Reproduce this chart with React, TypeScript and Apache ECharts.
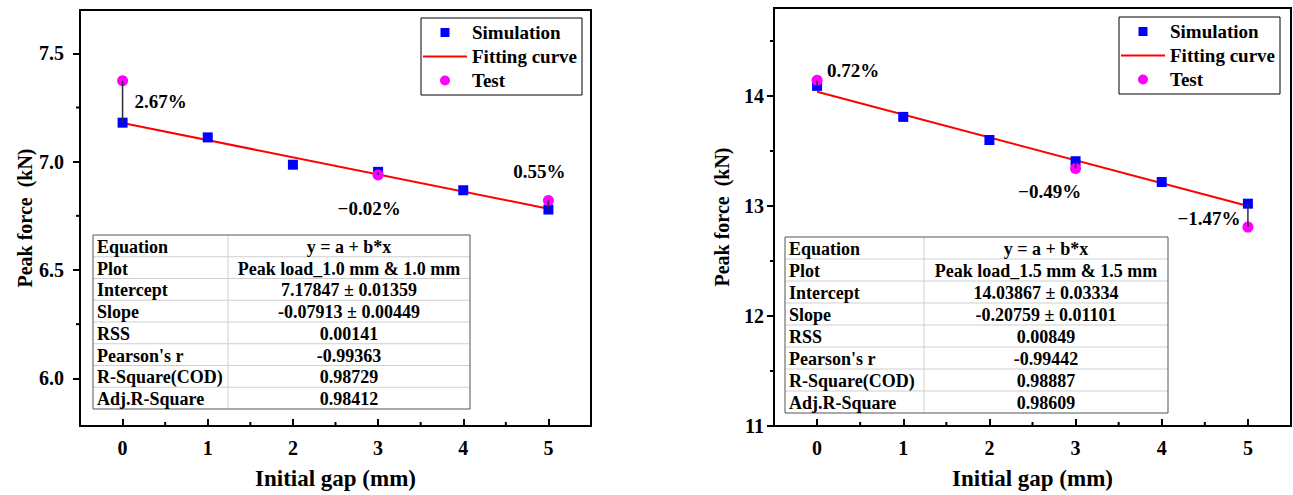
import React, { useEffect, useRef } from "react";
import * as echarts from "echarts";

// ---------- data ----------
const gaps = [0, 1, 2, 3, 4, 5];
const simLeft = [7.18, 7.112, 6.986, 6.953, 6.868, 6.779];
const testGapsLeft = [0, 3, 5];
const testLeft = [7.373, 6.938, 6.821];
const pctLeft = ["2.67%", "\u22120.02%", "0.55%"];
const interceptLeft = 7.17847;
const slopeLeft = -0.07913;

const simRight = [14.092, 13.81, 13.6, 13.407, 13.218, 13.021];
const testGapsRight = [0, 3, 5];
const testRight = [14.144, 13.34, 12.808];
const pctRight = ["0.72%", "\u22120.49%", "\u22121.47%"];
const interceptRight = 14.03867;
const slopeRight = -0.20759;

const xRange = [-0.5, 5.5];
const yRangeLeft = [5.78, 7.7];
const yRangeRight = [11, 14.8];
const xTicks = [0, 1, 2, 3, 4, 5];
const xMinorTicks = [0.5, 1.5, 2.5, 3.5, 4.5];
const yTicksLeft = [6.0, 6.5, 7.0, 7.5];
const yMinorLeft = [6.25, 6.75, 7.25];
const yTicksRight = [11, 12, 13, 14];
const yMinorRight = [11.5, 12.5, 13.5, 14.5];

const tableLabels = ["Equation", "Plot", "Intercept", "Slope", "RSS", "Pearson's r", "R-Square(COD)", "Adj.R-Square"];
const tableLeftValues = ["y = a + b*x", "Peak load_1.0 mm & 1.0 mm", "7.17847 \u00b1 0.01359", "-0.07913 \u00b1 0.00449", "0.00141", "-0.99363", "0.98729", "0.98412"];
const tableRightValues = ["y = a + b*x", "Peak load_1.5 mm & 1.5 mm", "14.03867 \u00b1 0.03334", "-0.20759 \u00b1 0.01101", "0.00849", "-0.99442", "0.98887", "0.98609"];

const legendNames = ["Simulation", "Fitting curve", "Test"];

// ---------- style ----------
const FONT = "Liberation Serif";
const labelOffsetsLeft = [[38, 21], [-9, 33], [-9, -29]];
const labelOffsetsRight = [[36, -10], [-26, 23], [-39, -9]];

// legend icons: tiny corner boxes fix the 44x10 bounding box so shapes keep their aspect
const CORNERS = "M0,0h0.01v0.01h-0.01z M43.99,9.99h0.01v0.01h-0.01z ";
const legendIcons = [
  "path://" + CORNERS + "M17.5,0.5h9v9h-9z",
  "path://" + CORNERS + "M0,4h44v2h-44z",
  "path://" + CORNERS + "M27,5A5,5 0 1,1 17,5A5,5 0 1,1 27,5z",
];

function buildTable(x: number, y: number, w: number, h: number, c1: number, values: string[]) {
  const n = tableLabels.length;
  const rh = h / n;
  const children: any[] = [];
  children.push({ type: "rect", shape: { x: 0, y: 0, width: w, height: h }, style: { fill: "#fff", stroke: "none" } });
  for (let i = 1; i < n; i++) {
    children.push({ type: "line", shape: { x1: 0, y1: i * rh, x2: w, y2: i * rh }, style: { stroke: "#cfcfcf", lineWidth: 1 } });
  }
  children.push({ type: "line", shape: { x1: c1, y1: 0, x2: c1, y2: h }, style: { stroke: "#cfcfcf", lineWidth: 1 } });
  children.push({ type: "rect", shape: { x: 0, y: 0, width: w, height: h }, style: { fill: "none", stroke: "#555", lineWidth: 1 } });
  tableLabels.forEach((lab, i) => {
    children.push({
      type: "text", x: 4, y: i * rh + rh / 2 + 1,
      style: { text: lab, fontFamily: FONT, fontWeight: "bold", fontSize: 18, fill: "#000", align: "left", verticalAlign: "middle" },
    });
    children.push({
      type: "text", x: c1 + (w - c1) / 2, y: i * rh + rh / 2 + 1,
      style: { text: values[i], fontFamily: FONT, fontWeight: "bold", fontSize: 18, fill: "#000", align: "center", verticalAlign: "middle" },
    });
  });
  return { type: "group", x, y, z: 50, children };
}

function axesFor(gridIndex: number, yRange: number[], yMajor: number[], yFmt: (v: number) => string, yMargin: number, yNameGap: number) {
  const tickLabel = { fontFamily: FONT, fontWeight: "bold", fontSize: 20, color: "#000" };
  const xMain = {
    type: "value", gridIndex, min: xRange[0], max: xRange[1], position: "bottom",
    name: "Initial gap (mm)", nameLocation: "middle", nameGap: 41,
    nameTextStyle: { fontFamily: FONT, fontWeight: "bold", fontSize: 23, color: "#000" },
    axisLine: { show: false, onZero: false }, splitLine: { show: false },
    axisTick: { show: true, inside: true, length: 7, customValues: xTicks, lineStyle: { color: "#000", width: 2 } },
    axisLabel: { ...tickLabel, margin: 12, customValues: xTicks, formatter: (v: number) => String(v) },
  };
  const yMain = {
    type: "value", gridIndex, min: yRange[0], max: yRange[1], position: "left",
    name: "Peak force  (kN)", nameLocation: "middle", nameGap: yNameGap,
    nameTextStyle: { fontFamily: FONT, fontWeight: "bold", fontSize: 20, color: "#000" },
    axisLine: { show: false, onZero: false }, splitLine: { show: false },
    axisTick: { show: true, inside: false, length: 7, customValues: yMajor, lineStyle: { color: "#000", width: 2 } },
    axisLabel: { ...tickLabel, margin: yMargin, customValues: yMajor, formatter: yFmt },
  };
  return { x: xMain, y: yMain };
}

function minorTickSeries(axisIndex: number, yRange: number[], yMinor: number[]) {
  const yTicks = {
    type: "custom", xAxisIndex: axisIndex, yAxisIndex: axisIndex, clip: false, silent: true, z: 10,
    data: yMinor.map((v) => [xRange[0], v]),
    renderItem: (_p: any, api: any) => {
      const pt = api.coord([api.value(0), api.value(1)]);
      return { type: "line", shape: { x1: pt[0] - 4, y1: pt[1], x2: pt[0], y2: pt[1] }, style: { stroke: "#000", lineWidth: 2 } };
    },
  };
  const xTicksS = {
    type: "custom", xAxisIndex: axisIndex, yAxisIndex: axisIndex, clip: false, silent: true, z: 10,
    data: xMinorTicks.map((v) => [v, yRange[0]]),
    renderItem: (_p: any, api: any) => {
      const pt = api.coord([api.value(0), api.value(1)]);
      return { type: "line", shape: { x1: pt[0], y1: pt[1], x2: pt[0], y2: pt[1] - 4 }, style: { stroke: "#000", lineWidth: 2 } };
    },
  };
  return [yTicks, xTicksS];
}

function seriesFor(axisIndex: number, sim: number[], tGaps: number[], test: number[], pct: string[], offsets: number[][], a: number, b: number) {
  const out: any[] = [];
  const xAxisIndex = axisIndex, yAxisIndex = axisIndex;
  out.push({
    name: "Fitting curve", type: "line", xAxisIndex, yAxisIndex, symbol: "none", showSymbol: false, z: 3,
    lineStyle: { color: "#ff0000", width: 2 }, itemStyle: { color: "#ff0000" },
    data: [[gaps[0], a + b * gaps[0]], [gaps[gaps.length - 1], a + b * gaps[gaps.length - 1]]],
  });
  out.push({
    name: "Simulation", type: "scatter", xAxisIndex, yAxisIndex, symbol: "rect", symbolSize: 10, z: 4,
    itemStyle: { color: "#0000ff", opacity: 1 },
    data: gaps.map((g, i) => [g, sim[i]]),
  });
  out.push({
    name: "Test", type: "scatter", xAxisIndex, yAxisIndex, symbol: "circle", symbolSize: 11, z: 5,
    itemStyle: { color: "#ff00ff", opacity: 1 },
    data: tGaps.map((g, i) => ({
      value: [g, test[i]],
      label: {
        show: true, position: "inside", formatter: pct[i], offset: offsets[i],
        fontFamily: FONT, fontWeight: "bold", fontSize: 19, color: "#000",
      },
    })),
  });
  tGaps.forEach((g, i) => {
    out.push({
      name: "conn", type: "line", xAxisIndex, yAxisIndex, symbol: "none", showSymbol: false, z: 6,
      lineStyle: { color: "#2e2e3a", width: 1.5 },
      data: [[g, sim[gaps.indexOf(g)]], [g, test[i]]],
    });
  });
  return out;
}

function legendAt(left: number, top: number) {
  return {
    left, top, orient: "vertical",
    data: legendNames.map((n, i) => ({ name: n, icon: legendIcons[i] })),
    borderColor: "#000", borderWidth: 1, padding: [5, 5, 5, 2],
    itemWidth: 44, itemHeight: 10, itemGap: 5, symbolKeepAspect: true,
    textStyle: { fontFamily: FONT, fontWeight: "bold", fontSize: 19, color: "#000" },
    selectedMode: false,
  };
}

export default function App() {
  const ref = useRef<HTMLDivElement>(null);
  useEffect(() => {
    document.body.style.margin = "0";
    const chart = echarts.init(ref.current!, undefined, { renderer: "svg" });
    const A = axesFor(0, yRangeLeft, yTicksLeft, (v) => v.toFixed(1), 16, 45);
    const B = axesFor(1, yRangeRight, yTicksRight, (v) => String(v), 10, 42);
    chart.setOption({
      animation: false,
      backgroundColor: "#fff",
      grid: [
        { left: 80, top: 10, width: 511, height: 417, show: true, borderColor: "#000", borderWidth: 2, backgroundColor: "transparent" },
        { left: 774, top: 8, width: 517, height: 418, show: true, borderColor: "#000", borderWidth: 2, backgroundColor: "transparent" },
      ],
      xAxis: [A.x, B.x],
      yAxis: [A.y, B.y],
      legend: [legendAt(421, 18), legendAt(1119, 17)],
      series: [
        ...seriesFor(0, simLeft, testGapsLeft, testLeft, pctLeft, labelOffsetsLeft, interceptLeft, slopeLeft),
        ...seriesFor(1, simRight, testGapsRight, testRight, pctRight, labelOffsetsRight, interceptRight, slopeRight),
        ...minorTickSeries(0, yRangeLeft, yMinorLeft),
        ...minorTickSeries(1, yRangeRight, yMinorRight),
      ],
      graphic: [
        buildTable(93, 235, 377, 174, 135, tableLeftValues),
        buildTable(785, 237, 383, 176, 139, tableRightValues),
      ],
    });
    return () => chart.dispose();
  }, []);
  return <div ref={ref} style={{ position: "absolute", left: 0, top: 0, width: 1293, height: 495 }} />;
}
